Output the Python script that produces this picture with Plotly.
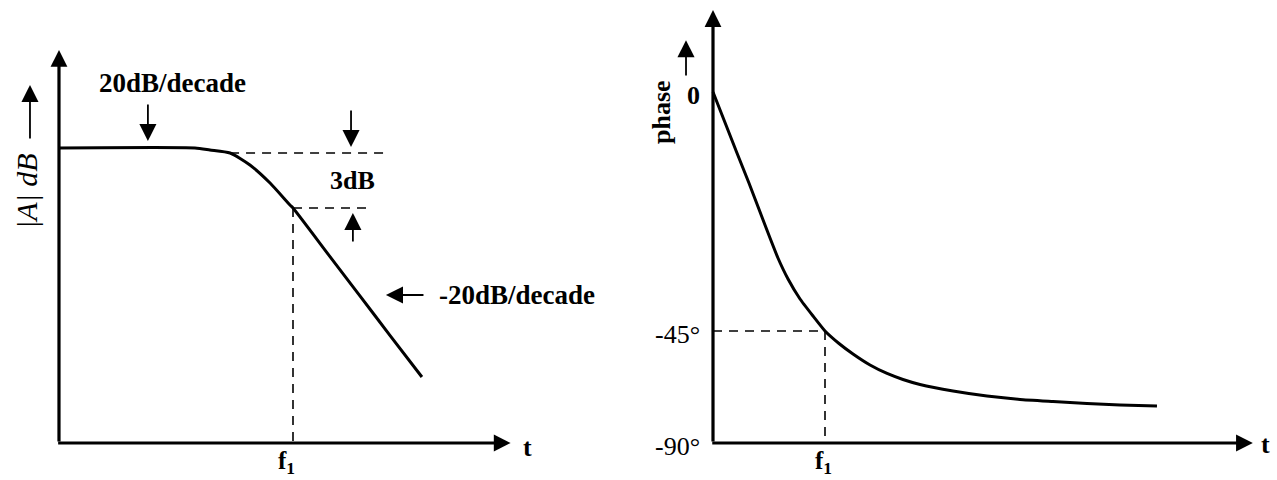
import plotly.graph_objects as go

# ---------------- data ----------------
# Left panel: magnitude, x = f / f1, y = gain in dB relative to pass-band level
mag_f = [0.0, 0.581, 0.645, 0.731, 0.816, 0.902, 0.987, 1.0, 1.158, 1.286, 1.415, 1.551]
mag_db = [0.0, 0.0, -0.1, -0.25, -0.85, -1.75, -2.85, -3.0, -5.43, -7.39, -9.38, -11.45]
mag_ref_db = -0.25          # dashed pass-band reference
mag_cut_db = -3.0           # -3 dB level
mag_f1 = 1.0
mag_axis_bottom = -14.75
mag_axis_top = 4.9
mag_axis_right = 1.93

# Right panel: phase, x = f / f1, y = phase level
ph_f = [0.0, 0.107, 0.214, 0.321, 0.420, 0.509, 0.580, 0.670, 0.777, 0.893, 1.0, 1.125,
        1.25, 1.402, 1.554, 1.696, 1.848, 2.143, 2.446, 2.741, 3.036, 3.339, 3.634, 3.964]
ph_deg = [0.0, -7.82, -15.64, -23.33, -30.77, -37.44, -42.56, -47.95, -53.08, -57.44,
          -61.28, -64.49, -67.18, -70.0, -72.18, -73.72, -75.0, -76.67, -77.95, -78.85,
          -79.36, -79.87, -80.26, -80.51]
ph_tick_vals = [0.0, -61.28, -90.0]
ph_tick_text = ["<b>0</b>", "-45°", "-90°"]
ph_f1 = 1.0
ph_axis_top = 21.0
ph_axis_right = 4.82

FONT = "Liberation Serif"
BLACK = "black"

fig = go.Figure()

# ---------------- left panel ----------------
fig.add_trace(go.Scatter(x=mag_f, y=mag_db, mode="lines", xaxis="x", yaxis="y",
                         line=dict(color=BLACK, width=3, shape="spline", smoothing=0.6),
                         showlegend=False, hoverinfo="skip"))
fig.add_trace(go.Scatter(x=[0.731, 1.393], y=[mag_ref_db, mag_ref_db], mode="lines",
                         xaxis="x", yaxis="y",
                         line=dict(color=BLACK, width=1.6, dash="9px,7px"),
                         showlegend=False, hoverinfo="skip"))
fig.add_trace(go.Scatter(x=[mag_f1, 1.342], y=[mag_cut_db, mag_cut_db], mode="lines",
                         xaxis="x", yaxis="y",
                         line=dict(color=BLACK, width=1.6, dash="9px,7px"),
                         showlegend=False, hoverinfo="skip"))
fig.add_trace(go.Scatter(x=[mag_f1, mag_f1], y=[mag_cut_db, mag_axis_bottom], mode="lines",
                         xaxis="x", yaxis="y",
                         line=dict(color=BLACK, width=1.6, dash="9px,7px"),
                         showlegend=False, hoverinfo="skip"))

# ---------------- right panel ----------------
fig.add_trace(go.Scatter(x=ph_f, y=ph_deg, mode="lines", xaxis="x2", yaxis="y2",
                         line=dict(color=BLACK, width=3, shape="spline", smoothing=0.4),
                         showlegend=False, hoverinfo="skip"))
fig.add_trace(go.Scatter(x=[0, ph_f1, ph_f1], y=[ph_tick_vals[1], ph_tick_vals[1], -90.0],
                         mode="lines", xaxis="x2", yaxis="y2",
                         line=dict(color=BLACK, width=1.6, dash="9px,7px"),
                         showlegend=False, hoverinfo="skip"))

ann = []


def arrow(xr, yr, x, y, ax, ay, width, size):
    ann.append(dict(xref=xr, yref=yr, axref=xr, ayref=yr, x=x, y=y, ax=ax, ay=ay,
                    text="", showarrow=True, arrowhead=2, arrowwidth=width,
                    arrowsize=size, arrowcolor=BLACK, standoff=0, startstandoff=0))


def label(xr, yr, x, y, text, size=26, xanchor="center", yanchor="middle", angle=0,
          bold=True, italic=False):
    t = text
    if bold:
        t = "<b>" + t + "</b>"
    if italic:
        t = "<i>" + t + "</i>"
    ann.append(dict(xref=xr, yref=yr, x=x, y=y, text=t, showarrow=False,
                    xanchor=xanchor, yanchor=yanchor, textangle=angle,
                    font=dict(family=FONT, size=size, color=BLACK)))


# axes (left)
arrow("x", "y", 0, mag_axis_top, 0, mag_axis_bottom, 3.2, 1.05)
arrow("x", "y", mag_axis_right, mag_axis_bottom, -0.01, mag_axis_bottom, 3.2, 1.05)
label("x", "y", 2.0, -14.95, "t")
label("x", "y", 0.974, -15.7, "f<sub>1</sub>", size=25)
# annotations (left)
label("x", "y", 0.487, 3.25, "20dB/decade", size=27)
arrow("x", "y", 0.380, 0.35, 0.380, 2.25, 1.8, 1.9)
label("x", "y", 1.256, -1.6, "3dB")
arrow("x", "y", 1.248, 0.05, 1.248, 1.95, 1.8, 1.9)
arrow("x", "y", 1.256, -3.25, 1.256, -4.75, 1.8, 1.9)
arrow("x", "y", 1.397, -7.35, 1.564, -7.35, 1.8, 1.9)
label("x", "y", 1.615, -7.35, "-20dB/decade", xanchor="left", size=27)
label("x", "y", -0.141, -2.15, "|A| dB", size=30, angle=-90, bold=False, italic=True)
arrow("x", "y", -0.124, 3.15, -0.124, 0.4, 1.8, 1.9)

# axes (right)
arrow("x2", "y2", 0, ph_axis_top, 0, -90.0, 3.2, 1.05)
arrow("x2", "y2", ph_axis_right, -90.0, -0.02, -90.0, 3.2, 1.05)
label("x2", "y2", 4.93, -90.5, "t")
label("x2", "y2", 0.99, -95.0, "f<sub>1</sub>", size=25)
for v, t in zip(ph_tick_vals, ph_tick_text):
    label("x2", "y2", -0.098, v - 0.8, t, xanchor="right", bold=False)
label("x2", "y2", -0.464, -5.13, "phase", angle=-90)
arrow("x2", "y2", -0.241, 13.3, -0.241, 3.85, 1.8, 1.9)

hidden = dict(visible=False, showgrid=False, zeroline=False, fixedrange=True)
fig.update_layout(
    width=1277, height=480,
    margin=dict(l=0, r=0, t=0, b=0),
    paper_bgcolor="white", plot_bgcolor="white",
    showlegend=False,
    xaxis=dict(domain=[0, 640 / 1277], range=[-0.2521, 2.4829], **hidden),
    yaxis=dict(domain=[0, 1], range=[-16.6, 7.4], anchor="x", **hidden),
    xaxis2=dict(domain=[640 / 1277, 1], range=[-0.6518, 5.0357], anchor="y2", **hidden),
    yaxis2=dict(domain=[0, 1], range=[-99.49, 23.59], anchor="x2", **hidden),
    annotations=ann,
)

fig.write_html("out.html", config={"staticPlot": True},
               post_script="document.body.style.margin='0px';"
                           "document.body.style.overflow='hidden';")
